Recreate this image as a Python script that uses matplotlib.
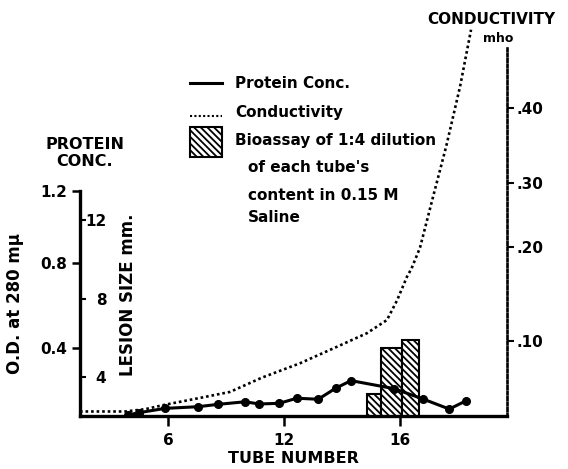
import matplotlib.pyplot as plt
import numpy as np
from matplotlib.lines import Line2D
from matplotlib.patches import Rectangle

# --- data ---
tube_protein = [3.9, 4.5, 5.83, 7.56, 8.59, 9.98, 10.72, 11.76, 12.44, 13.18,
                13.78, 14.31, 15.79, 16.80, 17.70, 18.28]
od_280 = [0.006, 0.02, 0.045, 0.055, 0.069, 0.084, 0.071, 0.075, 0.105, 0.099,
          0.164, 0.209, 0.162, 0.100, 0.041, 0.090]

tube_cond = [1.42, 3.75, 4.79, 5.83, 7.64, 9.20, 10.86, 12.55, 13.83, 14.86,
             15.55, 15.90, 16.24, 16.40, 16.69, 17.14, 17.59, 18.07, 18.45]
conductivity = [0.006, 0.006, 0.009, 0.015, 0.024, 0.032, 0.051, 0.070, 0.092,
                0.108, 0.122, 0.143, 0.168, 0.177, 0.199, 0.278, 0.348, 0.428,
                0.504]

bar_left = [14.86, 15.34, 16.07]
bar_right = [15.34, 16.07, 16.66]
lesion_mm = [3.13, 5.48, 5.89]

x_ticks = [6, 12, 16]
od_ticks = [0.4, 0.8, 1.2]
lesion_ticks = [4, 8, 12]
cond_ticks = [0.10, 0.20, 0.30, 0.40]
cond_labels = ['.10', '.20', '.30', '.40']

# the hand-drawn axes are not evenly spaced: tick value -> pixel offset
x_cal = ([6, 12, 16], [168.3, 284, 400])
od_cal = ([0, 0.4, 0.8, 1.2], [0, 67.7, 152.7, 225.3])
cond_cal = ([0, 0.1, 0.2, 0.3, 0.4], [0, 75.3, 169.3, 233.3, 308.3])


def warp(values, pixels):
    v = np.asarray(values, float)
    p = np.asarray(pixels, float)

    def interp(a, xs, ys):
        a = np.asarray(a, float)
        out = np.interp(a, xs, ys)
        lo = ys[0] + (a - xs[0]) * (ys[1] - ys[0]) / (xs[1] - xs[0])
        hi = ys[-1] + (a - xs[-1]) * (ys[-1] - ys[-2]) / (xs[-1] - xs[-2])
        return np.where(a < xs[0], lo, np.where(a > xs[-1], hi, out))

    return (lambda a: interp(a, v, p)), (lambda a: interp(a, p, v))


W, H = 568, 469
L, R, B, T = 80, 507, 416, 28
HATCH = '\\' * 5
plt.rcParams['font.family'] = 'DejaVu Sans'
plt.rcParams['font.weight'] = 'bold'
plt.rcParams['hatch.linewidth'] = 1.3


def fx(x):
    return x / W


def fy(y):
    return 1 - y / H


fig = plt.figure(figsize=(W / 100, H / 100), dpi=100)
ax = fig.add_axes([fx(L), fy(B), (R - L) / W, (B - T) / H])
ax_les = ax.twinx()
ax_con = ax.twinx()
for a in (ax, ax_les, ax_con):
    a.patch.set_visible(False)
    for s in a.spines.values():
        s.set_visible(False)
ax.set_zorder(3)
ax_les.set_zorder(1)
ax_con.set_zorder(2)

xf, xi = warp(*x_cal)
ax.set_xscale('function', functions=(xf, xi))
ax.set_xlim(xi(L), xi(R))

odf, odi = warp(*od_cal)
ax.set_yscale('function', functions=(odf, odi))
ax.set_ylim(0, odi(B - T))

cf, ci = warp(*cond_cal)
ax_con.set_yscale('function', functions=(cf, ci))
ax_con.set_ylim(0, ci(B - T))

# lesion scale: 4 mm -> 377 px, 12 mm -> 220 px
les_px = (377 - 220) / 8
les_zero = 377 + 4 * les_px
ax_les.set_ylim((les_zero - B) / les_px, (les_zero - T) / les_px)

# marks
ax_les.bar(bar_left, lesion_mm, width=np.subtract(bar_right, bar_left),
           align='edge', facecolor='white', edgecolor='black', lw=1.5,
           hatch=HATCH)
ax_con.plot(tube_cond, conductivity, color='black', lw=1.9,
            linestyle=(0, (1, 1.1)))
ax.plot(tube_protein, od_280, color='black', lw=2.2, marker='o', ms=5.5)

# axes styling
ax.spines['left'].set_visible(True)
ax.spines['left'].set_linewidth(2.4)
ax.spines['left'].set_bounds(0, 1.2)
ax.spines['bottom'].set_visible(True)
ax.spines['bottom'].set_linewidth(2.4)
ax.set_xticks(x_ticks)
ax.set_yticks(od_ticks)
ax.tick_params(axis='x', length=7, width=1.8, pad=5, labelsize=11)
ax.tick_params(axis='y', length=6, width=1.8, pad=3, labelsize=11)

ax_les.yaxis.tick_left()
ax_les.set_yticks(lesion_ticks)
ax_les.tick_params(axis='y', direction='in', length=4, width=1.5, pad=-19,
                   labelsize=11)

con_sp = ax_con.spines['right']
con_sp.set_visible(True)
con_sp.set_linewidth(1.9)
con_sp.set_linestyle((0, (1, 1.1)))
con_sp.set_bounds(0, ci(B - 48))
ax_con.set_yticks(cond_ticks, labels=cond_labels)
ax_con.tick_params(axis='y', length=5, width=1.5, pad=2, labelsize=11)

# axis titles
fig.text(fx(293), fy(458), 'TUBE NUMBER', ha='center', va='center',
         fontsize=11.5)
fig.text(fx(15), fy(303), 'O.D. at 280 m\u03bc', rotation=90, ha='center',
         va='center', fontsize=12)
fig.text(fx(128), fy(295), 'LESION SIZE mm.', rotation=90, ha='center',
         va='center', fontsize=12)
fig.text(fx(85), fy(153), 'PROTEIN\nCONC.', ha='center', va='center',
         fontsize=11.5, linespacing=1.1)
fig.text(fx(427), fy(20), 'CONDUCTIVITY', ha='left', va='center', fontsize=11)
fig.text(fx(498), fy(38), 'mho', ha='center', va='center', fontsize=9)

# hand-made key
fig.add_artist(Line2D([fx(190), fx(222)], [fy(83), fy(83)], color='black',
                      lw=2.2, transform=fig.transFigure))
fig.add_artist(Line2D([fx(190), fx(222)], [fy(116), fy(116)], color='black',
                      lw=1.5, linestyle=(0, (1, 1.1)), transform=fig.transFigure))
fig.add_artist(Rectangle((fx(190), fy(157)), 32 / W, 30 / H, facecolor='white',
                         edgecolor='black', lw=1.5, hatch=HATCH,
                         transform=fig.transFigure))
key_text = [(235, 83, 'Protein Conc.'), (235, 112, 'Conductivity'),
            (235, 140, 'Bioassay of 1:4 dilution'), (248, 168, "of each tube's"),
            (248, 196, 'content in 0.15 M'), (248, 218, 'Saline')]
for x, y, s in key_text:
    fig.text(fx(x), fy(y), s, ha='left', va='center', fontsize=11)

fig.savefig('out.png', dpi=100)
